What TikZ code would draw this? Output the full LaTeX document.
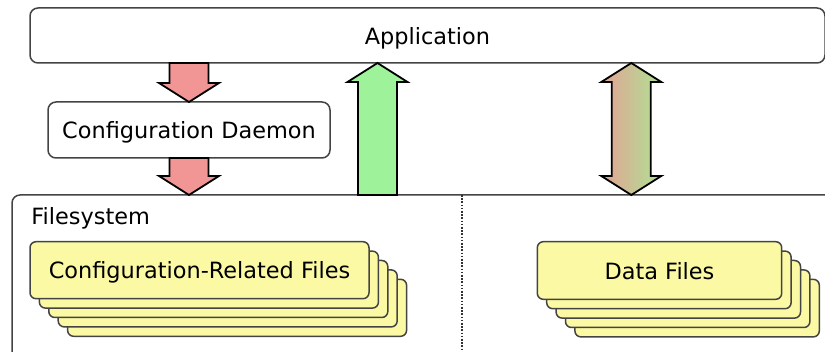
\documentclass[tikz,border=0pt]{standalone}
\usepackage{fontspec}
\setmainfont{DejaVu Sans}
\usetikzlibrary{calc}
\definecolor{arrowred}{HTML}{F29595}
\definecolor{arrowgreen}{HTML}{9EF29A}
\definecolor{gradred}{HTML}{E4A294}
\definecolor{gradgreen}{HTML}{AEE294}
\definecolor{fileyellow}{HTML}{FCF9A5}
\definecolor{edgegray}{HTML}{444444}
% fat arrow: style, from, to
\newcommand{\fatarrow}[3]{%
  \coordinate (fa) at (#2); \coordinate (fb) at (#3);
  \coordinate (hb) at ($(fb)!9.5pt!(fa)$);
  \draw[#1] ([xshift=-9.75pt]fa) -- ([xshift=-9.75pt]hb) -- ([xshift=-15pt]hb) -- (fb)
    -- ([xshift=15pt]hb) -- ([xshift=9.75pt]hb) -- ([xshift=9.75pt]fa) -- cycle;}
% fat arrow with two heads
\newcommand{\fatdouble}[3]{%
  \coordinate (fa) at (#2); \coordinate (fb) at (#3);
  \coordinate (ha) at ($(fa)!9.5pt!(fb)$); \coordinate (hb) at ($(fb)!9.5pt!(fa)$);
  \draw[#1] (fa) -- ([xshift=15pt]ha) -- ([xshift=9.75pt]ha) -- ([xshift=9.75pt]hb) -- ([xshift=15pt]hb)
    -- (fb) -- ([xshift=-15pt]hb) -- ([xshift=-9.75pt]hb) -- ([xshift=-9.75pt]ha) -- ([xshift=-15pt]ha) -- cycle;}
\begin{document}
\begin{tikzpicture}[x=0.5pt, y=-0.5pt, font=\fontsize{11.2}{13}\selectfont, line join=round,
    box/.style={draw=edgegray, line width=0.75pt, rounded corners=4pt, fill=white, inner sep=0pt, outer sep=0pt, text depth=0pt},
    card/.style={box, rounded corners=3pt, fill=fileyellow},
    redarrow/.style={draw=black, line width=0.9pt, line join=miter, fill=arrowred},
    greenarrow/.style={draw=black, line width=0.9pt, line join=miter, fill=arrowgreen},
    gradarrow/.style={draw=black, line width=0.9pt, line join=miter, left color=gradred, right color=gradgreen}]
  \clip (0,0) rectangle (825,352);
  \node[box, minimum width=397.5pt, minimum height=27.5pt] (app) at (427.5,35.5) {Application};
  \node[box, minimum width=141pt, minimum height=28pt] (daemon) at (189,130) {Configuration Daemon};
  \node[box, minimum width=414pt, minimum height=82.5pt] (fs) at (426,277.5) {};
  \node[anchor=west, inner sep=0pt, text depth=0pt] (fslabel) at ([shift={(19,21)}]fs.north west) {Filesystem};
  %\draw[help lines] (0,0) grid[step=50] (825,352);
  \coordinate (split) at (461.7,352);
  \draw[black!80, line width=0.8pt, dash pattern=on 0.8pt off 0.8pt] (fs.north -| split) -- (split);
  % file stacks
  \foreach \i in {4,...,1}
    \node[card, minimum width=169.5pt, minimum height=28.5pt] at (199.5+9.4*\i,270.2+9.4*\i) {};
  \node[card, minimum width=169.5pt, minimum height=28.5pt] (cfgfiles) at (199.5,270.2) {Configuration-Related Files};
  \foreach \i in {4,...,1}
    \node[card, minimum width=122.2pt, minimum height=28.8pt] at (659.5+9.4*\i,270.5+9.4*\i) {};
  \node[card, minimum width=122.2pt, minimum height=28.8pt] (datafiles) at (659.5,270.5) {Data Files};
  % arrows
  \coordinate (upx) at (377.5,0);
  \coordinate (bothx) at (631.3,0);
  \fatarrow{redarrow}{app.south -| daemon.north}{daemon.north}
  \fatarrow{redarrow}{daemon.south}{fs.north -| daemon.south}
  \fatarrow{greenarrow}{fs.north -| upx}{app.south -| upx}
  \fatdouble{gradarrow}{app.south -| bothx}{fs.north -| bothx}
\end{tikzpicture}
\end{document}
